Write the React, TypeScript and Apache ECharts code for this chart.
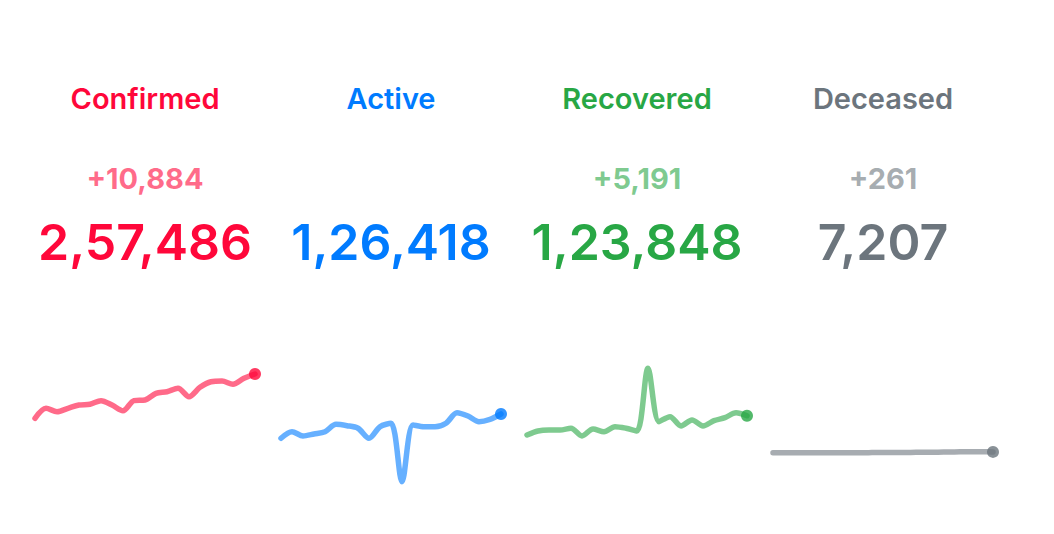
import React, { useEffect, useRef } from 'react';
import * as echarts from 'echarts';

const days = [
  '18 May', '19 May', '20 May', '21 May', '22 May', '23 May', '24 May',
  '25 May', '26 May', '27 May', '28 May', '29 May', '30 May', '31 May',
  '01 Jun', '02 Jun', '03 Jun', '04 Jun', '05 Jun', '06 Jun', '07 Jun',
];

const confirmedDaily = [4850, 6210, 5750, 6210, 6660, 6760, 7250, 6660, 5880, 7250, 7340, 8250, 8470, 8940, 7790, 9070, 9830, 9930, 9480, 10300, 10884];
const activeDaily = [2125, 3020, 2440, 2710, 3020, 4030, 3840, 3490, 2125, 3700, 4170, -3790, 3940, 3700, 3700, 4170, 5610, 5160, 4390, 4710, 5432];
const recoveredDaily = [2570, 3120, 3250, 3250, 3490, 2440, 3390, 3020, 3700, 3490, 3120, 11660, 4390, 5070, 3800, 4620, 3800, 4520, 4930, 5610, 5191];
const deceasedDaily = [157, 134, 132, 148, 137, 142, 154, 147, 146, 170, 194, 175, 193, 204, 217, 230, 260, 273, 294, 287, 261];

const titles = ['Confirmed', 'Active', 'Recovered', 'Deceased'];
const deltas = ['+10,884', '', '+5,191', '+261'];
const totals = ['2,57,486', '1,26,418', '1,23,848', '7,207'];
const seriesData = [confirmedDaily, activeDaily, recoveredDaily, deceasedDaily];

const colors = ['#ff073a', '#007bff', '#28a745', '#6c757d'];
const lightColors = ['rgba(255,7,58,0.6)', 'rgba(0,123,255,0.6)', 'rgba(40,167,69,0.6)', 'rgba(108,117,125,0.6)'];

export default function App() {
  const ref = useRef<HTMLDivElement>(null);
  useEffect(() => {
    if (!ref.current) return;
    const chart = echarts.init(ref.current, null, { renderer: 'svg' });
    const fontFamily = 'Inter, "Noto Sans", sans-serif';
    const colW = 246;
    const graphics: any[] = [];
    titles.forEach((t, i) => {
      const cx = 145 + colW * i;
      graphics.push({
        type: 'text', x: cx, y: 98,
        style: { text: t, fill: colors[i], font: `600 29px ${fontFamily}`, align: 'center', verticalAlign: 'middle', textAlign: 'center', textVerticalAlign: 'middle' },
      });
      if (deltas[i]) {
        graphics.push({
          type: 'text', x: cx, y: 178,
          style: { text: deltas[i], fill: lightColors[i], font: `700 29px ${fontFamily}`, align: 'center', verticalAlign: 'middle', textAlign: 'center', textVerticalAlign: 'middle' },
        });
      }
      graphics.push({
        type: 'text', x: cx, y: 242,
        style: { text: totals[i], fill: colors[i], font: `600 50px ${fontFamily}`, align: 'center', verticalAlign: 'middle', textAlign: 'center', textVerticalAlign: 'middle' },
      });
    });

    const grids: any[] = [];
    const xAxes: any[] = [];
    const yAxes: any[] = [];
    const series: any[] = [];
    seriesData.forEach((d, i) => {
      grids.push({ left: 35 + colW * i, width: 220, top: 358.5, height: 132 });
      xAxes.push({ type: 'category', data: days, boundaryGap: false, show: false, gridIndex: i });
      yAxes.push({ type: 'value', min: -5000, max: 13000, show: false, gridIndex: i });
      series.push({
        type: 'line', xAxisIndex: i, yAxisIndex: i, data: d, smooth: 0.3, symbol: 'none',
        lineStyle: { color: lightColors[i], width: 5.5, cap: 'round', join: 'round' },
        silent: true,
      });
      series.push({
        type: 'scatter', xAxisIndex: i, yAxisIndex: i,
        data: [[days[days.length - 1], d[d.length - 1]]],
        symbol: 'circle', symbolSize: 12, itemStyle: { color: colors[i] }, silent: true,
      });
    });

    chart.setOption({
      animation: false,
      backgroundColor: '#ffffff',
      grid: grids,
      xAxis: xAxes,
      yAxis: yAxes,
      series,
      graphic: graphics,
    });
    return () => chart.dispose();
  }, []);
  return <div ref={ref} style={{ position: 'fixed', left: 0, top: 0, width: 1054, height: 534 }} />;
}
